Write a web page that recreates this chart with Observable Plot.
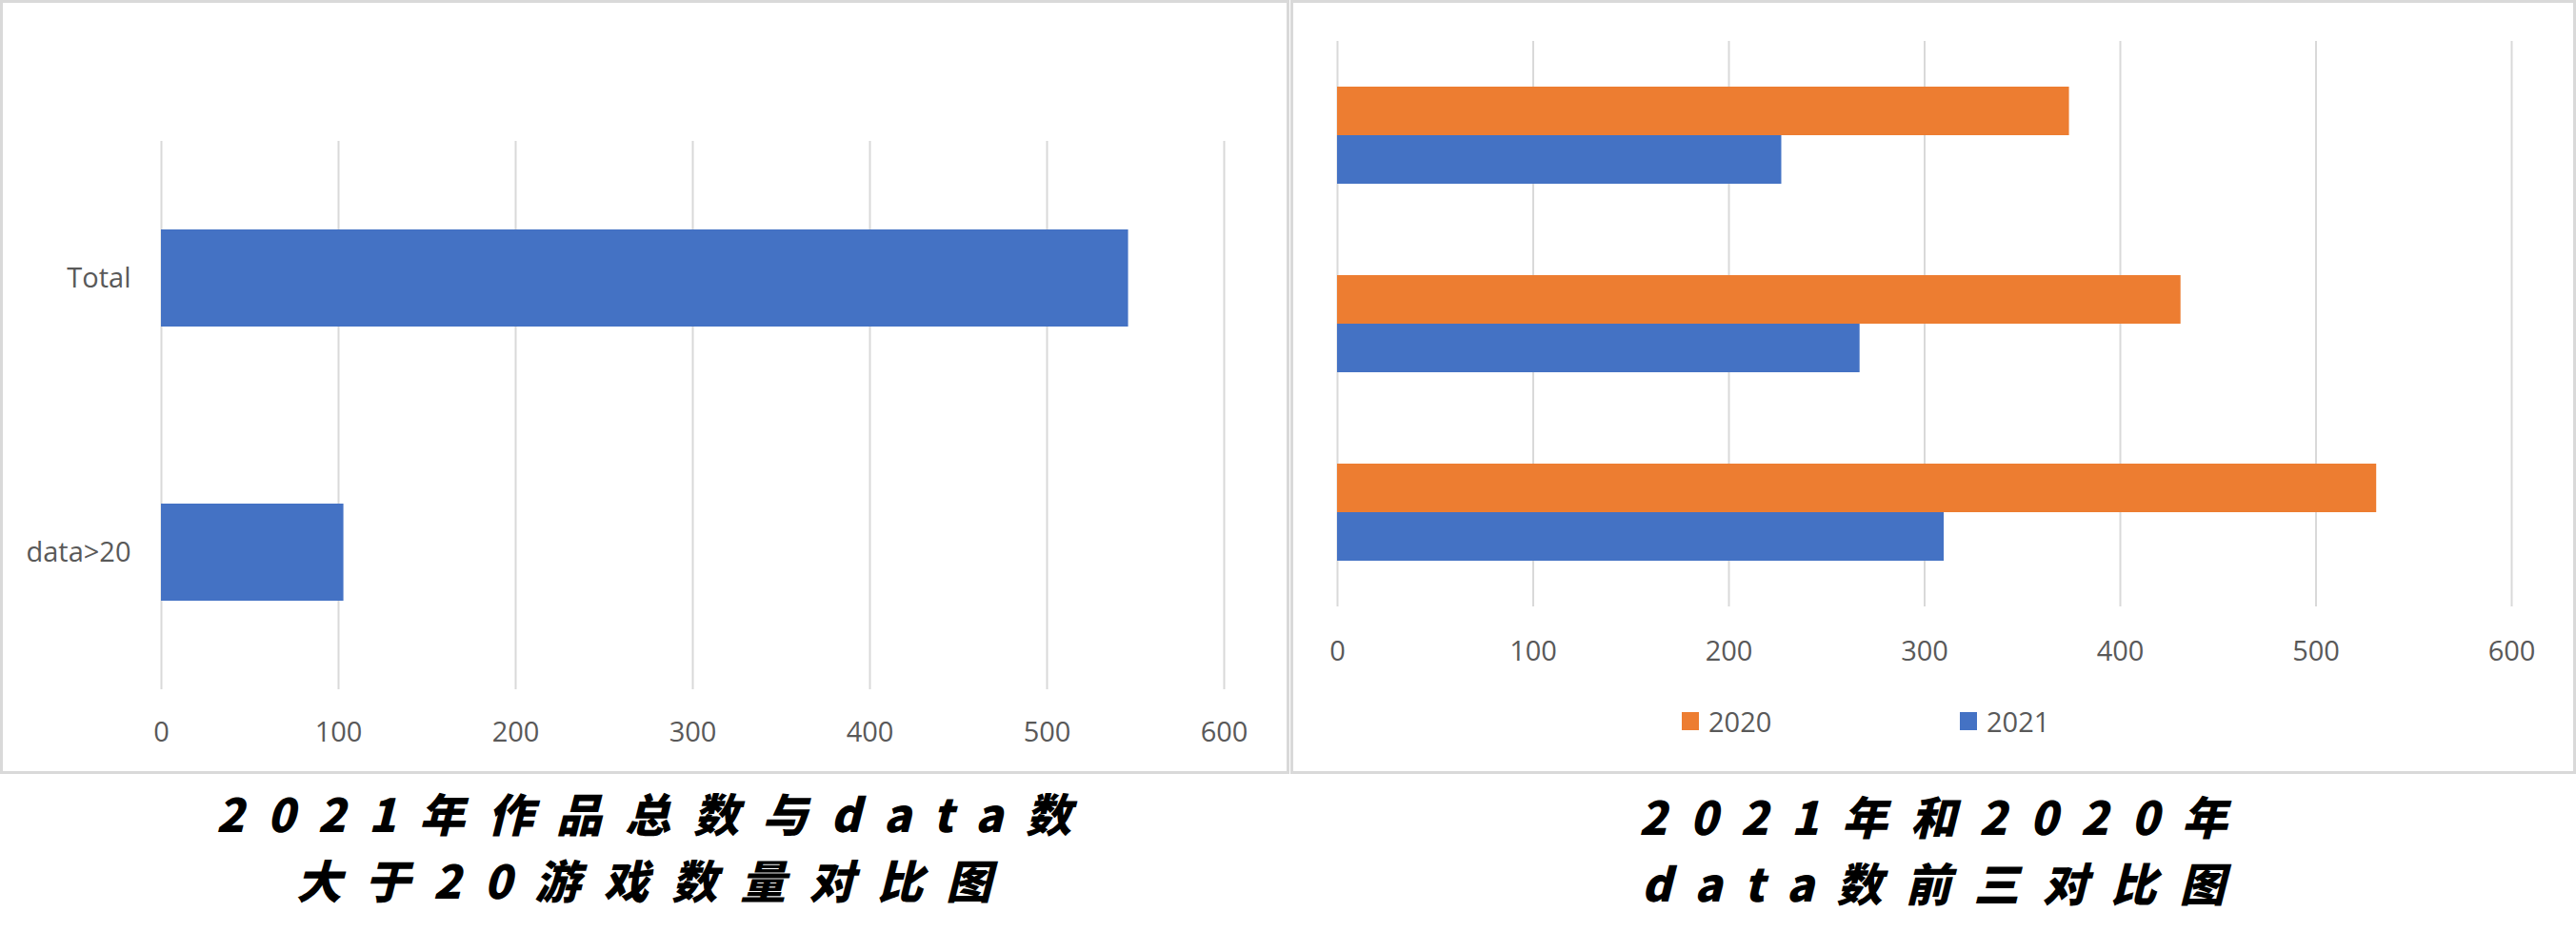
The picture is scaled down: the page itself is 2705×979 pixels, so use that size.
<!DOCTYPE html>
<html>
<head>
<meta charset="utf-8">
<script src="https://cdn.jsdelivr.net/npm/d3@7"></script>
<script src="https://cdn.jsdelivr.net/npm/@observablehq/plot@0.6"></script>
<style>
  html, body { margin: 0; padding: 0; background: #fff; }
  #page { position: relative; width: 2705px; height: 979px; overflow: hidden; background: #fff; font-family: "Open Sans", sans-serif; }
  .panel { position: absolute; box-sizing: border-box; border: 3px solid #d9d9d9; pointer-events: none; }
  .chart { position: absolute; top: 0; }
  .chart svg { overflow: visible; }
  .title { position: absolute; text-align: center; font-family: "Noto Sans CJK SC", sans-serif; font-weight: 900; font-style: italic; font-size: 48px; line-height: 70px; letter-spacing: 24px; color: #000; white-space: nowrap; }
  .title div { padding-left: 24px; }
  .legend-item { position: absolute; display: flex; align-items: center; font-family: "Open Sans", sans-serif; font-size: 29px; color: #595959; }
  .swatch { width: 18px; height: 19px; margin-right: 10px; }
</style>
</head>
<body>
<div id="page">
  <div id="leftChart" class="chart" style="left:0px;"></div>
  <div id="rightChart" class="chart" style="left:1355px;"></div>
  <div class="panel" style="left:0px;top:0px;width:1354px;height:813px;"></div>
  <div class="panel" style="left:1355px;top:0px;width:1350px;height:813px;"></div>
  <div id="legend"></div>
  <div id="leftTitle" class="title" style="left:0px;width:1352px;top:818px;"></div>
  <div id="rightTitle" class="title" style="left:1355px;width:1350px;top:821px;"></div>
</div>
<script>
// ---- data ----
const leftCategories = ["Total", "data>20"];
const leftValues = [546, 103];

const rightCategories = ["No.3", "No.2", "No.1"]; // top to bottom, labels hidden in the original
const series = ["2020", "2021"];
const values2020 = [374, 431, 531];
const values2021 = [227, 267, 310];
const seriesColors = ["#ED7D31", "#4472C4"];

const xTicks = [0, 100, 200, 300, 400, 500, 600];

const leftTitleLines = ["2021年作品总数与data数", "大于20游戏数量对比图"];
const rightTitleLines = ["2021年和2020年", "data数前三对比图"];

// ---- tables ----
const leftData = leftCategories.map((c, i) => ({category: c, value: leftValues[i]}));
const rightData = [];
rightCategories.forEach((c, i) => {
  rightData.push({category: c, series: series[0], value: values2020[i]});
  rightData.push({category: c, series: series[1], value: values2021[i]});
});

const axisStyle = {background: "transparent", fontFamily: "Open Sans, sans-serif", fontSize: "29px", color: "#595959", overflow: "visible"};

// ---- left chart ----
const left = Plot.plot({
  width: 1352, height: 811,
  marginLeft: 169, marginRight: 67, marginTop: 148, marginBottom: 87,
  style: axisStyle,
  x: {domain: [0, 600], ticks: xTicks, tickSize: 0, tickPadding: 34, label: null},
  y: {domain: leftCategories, paddingInner: 0.646, paddingOuter: 0.323, tickSize: 0, tickPadding: 32, label: null},
  marks: [
    Plot.ruleX(xTicks, {stroke: "#d9d9d9", strokeWidth: 2}),
    Plot.barX(leftData, {x: "value", y: "category", fill: "#4472C4"})
  ]
});
document.getElementById("leftChart").appendChild(left);

// ---- right chart ----
const right = Plot.plot({
  width: 1350, height: 811,
  marginLeft: 49, marginRight: 68, marginTop: 43, marginBottom: 174,
  style: axisStyle,
  facet: {data: rightData, y: "category"},
  fy: {domain: rightCategories, padding: 0, axis: null, label: null},
  y: {domain: series, paddingInner: 0, paddingOuter: 0.92, axis: null, label: null},
  x: {domain: [0, 600], ticks: xTicks, tickSize: 0, tickPadding: 36, label: null},
  color: {domain: series, range: seriesColors},
  marks: [
    Plot.ruleX(xTicks, {stroke: "#d9d9d9", strokeWidth: 2}),
    Plot.barX(rightData, {x: "value", y: "series", fill: "series"})
  ]
});
document.getElementById("rightChart").appendChild(right);

// ---- legend ----
const legendX = [1766, 2058];
const legend = document.getElementById("legend");
series.forEach((s, i) => {
  const item = document.createElement("div");
  item.className = "legend-item";
  item.style.left = legendX[i] + "px";
  item.style.top = "737px";
  item.style.height = "40px";
  const sw = document.createElement("div");
  sw.className = "swatch";
  sw.style.background = seriesColors[i];
  const tx = document.createElement("span");
  tx.textContent = s;
  item.appendChild(sw);
  item.appendChild(tx);
  legend.appendChild(item);
});

// ---- titles ----
document.getElementById("leftTitle").innerHTML = leftTitleLines.map(t => `<div>${t}</div>`).join("");
document.getElementById("rightTitle").innerHTML = rightTitleLines.map(t => `<div>${t}</div>`).join("");
</script>
</body>
</html>
